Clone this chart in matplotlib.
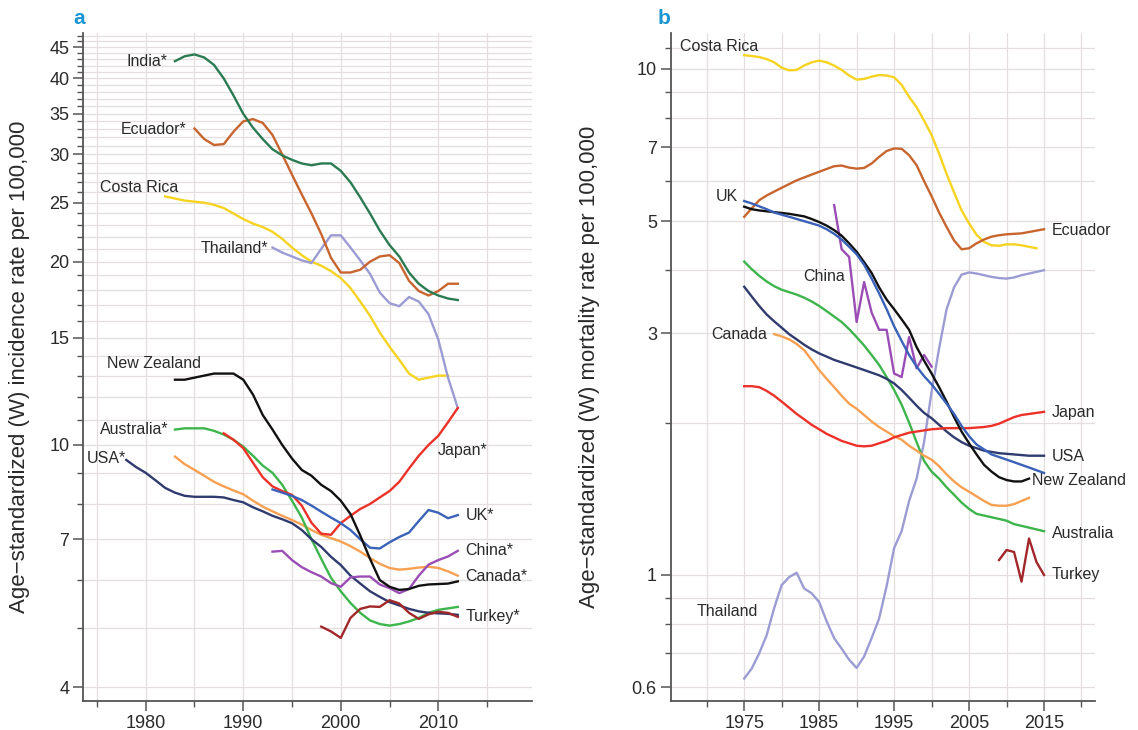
import matplotlib
matplotlib.use("Agg")
import matplotlib.pyplot as plt
from matplotlib.ticker import FixedLocator, NullFormatter, FixedFormatter

plt.rcParams['font.family'] = ['Liberation Sans', 'DejaVu Sans']

# ---------------- panel a: incidence ----------------
india_years = list(range(1983, 2013))
india = [42.7, 43.5, 43.8, 43.3, 42.1, 40.0, 37.5, 35.0, 33.2, 31.8, 30.6, 29.9, 29.4, 29.0, 28.8,
         29.0, 29.0, 28.2, 27.0, 25.5, 24.0, 22.5, 21.3, 20.4, 19.2, 18.4, 17.9, 17.6, 17.4, 17.3]

ecuador_years = list(range(1985, 2013))
ecuador = [33.1, 31.8, 31.1, 31.2, 32.7, 34.0, 34.3, 33.8, 32.3, 30.0, 27.8, 25.8, 24.0, 22.2,
           20.3, 19.2, 19.2, 19.4, 20.0, 20.4, 20.5, 19.9, 18.6, 17.9, 17.6, 17.9, 18.4, 18.4]

costa_years = list(range(1982, 2012))
costa = [25.6, 25.4, 25.2, 25.1, 25.0, 24.8, 24.5, 24.0, 23.5, 23.1, 22.8, 22.4, 21.8, 21.1, 20.5,
         20.0, 19.7, 19.3, 18.8, 18.1, 17.2, 16.3, 15.3, 14.5, 13.8, 13.1, 12.8, 12.9, 13.0, 13.0]

thai_years = list(range(1993, 2013))
thai = [21.1, 20.7, 20.4, 20.1, 19.9, 21.0, 22.1, 22.1, 21.1, 20.1, 19.1, 17.8, 17.1, 16.9, 17.5,
        17.2, 16.4, 14.9, 12.9, 11.5]

nz_years = list(range(1983, 2013))
nz = [12.8, 12.8, 12.9, 13.0, 13.1, 13.1, 13.1, 12.8, 12.1, 11.2, 10.6, 10.0, 9.5, 9.1, 8.9, 8.6,
      8.4, 8.1, 7.7, 7.1, 6.5, 6.0, 5.85, 5.78, 5.8, 5.87, 5.9, 5.91, 5.92, 5.97]

aus_years = list(range(1983, 2013))
aus = [10.6, 10.65, 10.65, 10.65, 10.55, 10.4, 10.2, 9.94, 9.6, 9.25, 9.0, 8.6, 8.1, 7.6, 7.0, 6.5,
       6.05, 5.75, 5.5, 5.3, 5.15, 5.08, 5.05, 5.08, 5.13, 5.2, 5.3, 5.36, 5.39, 5.42]

japan_years = list(range(1988, 2013))
japan = [10.45, 10.2, 9.88, 9.35, 8.85, 8.55, 8.4, 8.28, 7.95, 7.45, 7.15, 7.12, 7.44, 7.65, 7.85,
         8.0, 8.2, 8.4, 8.7, 9.15, 9.6, 10.0, 10.35, 10.9, 11.5]

usa_years = list(range(1978, 2013))
usa = [9.45, 9.2, 9.0, 8.75, 8.5, 8.35, 8.25, 8.22, 8.22, 8.22, 8.2, 8.12, 8.05, 7.9, 7.78, 7.65,
       7.55, 7.44, 7.25, 7.0, 6.8, 6.55, 6.35, 6.1, 5.92, 5.75, 5.63, 5.52, 5.45, 5.38, 5.33, 5.3,
       5.29, 5.28, 5.26]

canada_years = list(range(1983, 2013))
canada = [9.57, 9.3, 9.1, 8.9, 8.7, 8.55, 8.42, 8.3, 8.1, 7.92, 7.78, 7.65, 7.53, 7.4, 7.25, 7.12,
          7.03, 6.94, 6.82, 6.68, 6.52, 6.38, 6.28, 6.24, 6.26, 6.29, 6.31, 6.28, 6.2, 6.1]

uk_years = list(range(1993, 2013))
uk = [8.45, 8.35, 8.25, 8.12, 7.95, 7.77, 7.6, 7.44, 7.25, 7.0, 6.78, 6.76, 6.92, 7.06, 7.18, 7.5,
      7.82, 7.74, 7.58, 7.67]

china_years = list(range(1993, 2013))
china = [6.68, 6.7, 6.47, 6.3, 6.18, 6.08, 5.93, 5.85, 6.06, 6.08, 6.08, 5.9, 5.82, 5.71, 5.8, 6.1,
         6.36, 6.47, 6.56, 6.7]

turkey_years = list(range(1998, 2013))
turkey = [5.03, 4.94, 4.82, 5.2, 5.38, 5.43, 5.42, 5.56, 5.49, 5.3, 5.18, 5.27, 5.32, 5.3, 5.22]

# ---------------- panel b: mortality ----------------
b_years = list(range(1975, 2016))
b_costa = [10.64, 10.6, 10.55, 10.45, 10.3, 10.05, 9.93, 9.95, 10.15, 10.3, 10.38, 10.3, 10.15,
           9.95, 9.7, 9.52, 9.55, 9.65, 9.72, 9.7, 9.62, 9.3, 8.8, 8.4, 7.9, 7.4, 6.8, 6.2, 5.7,
           5.25, 4.95, 4.7, 4.55, 4.48, 4.47, 4.5, 4.5, 4.48, 4.45, 4.42]
b_ecuador = [5.1, 5.3, 5.5, 5.62, 5.72, 5.82, 5.92, 6.02, 6.1, 6.18, 6.26, 6.34, 6.42, 6.44, 6.38,
             6.35, 6.37, 6.5, 6.7, 6.88, 6.96, 6.95, 6.75, 6.45, 6.0, 5.6, 5.2, 4.87, 4.58, 4.4,
             4.42, 4.52, 4.6, 4.66, 4.69, 4.71, 4.72, 4.73, 4.76, 4.79, 4.82]
b_uk = [5.48, 5.42, 5.35, 5.28, 5.2, 5.15, 5.1, 5.05, 5.0, 4.95, 4.9, 4.82, 4.72, 4.6, 4.45, 4.3,
        4.1, 3.85, 3.6, 3.35, 3.1, 2.9, 2.72, 2.58, 2.47, 2.38, 2.28, 2.18, 2.08, 1.97, 1.88, 1.81,
        1.77, 1.73, 1.71, 1.69, 1.67, 1.65, 1.63, 1.61, 1.59]
b_nz = [5.34, 5.28, 5.25, 5.23, 5.21, 5.19, 5.17, 5.14, 5.11, 5.05, 4.98, 4.9, 4.8, 4.68, 4.52,
        4.35, 4.15, 3.95, 3.7, 3.5, 3.35, 3.2, 3.05, 2.82, 2.65, 2.5, 2.35, 2.2, 2.05, 1.92, 1.82,
        1.73, 1.65, 1.6, 1.56, 1.54, 1.53, 1.53, 1.55]
b_thai = [0.624, 0.653, 0.70, 0.76, 0.86, 0.955, 0.99, 1.01, 0.94, 0.92, 0.884, 0.81, 0.75, 0.715,
          0.68, 0.655, 0.69, 0.75, 0.82, 0.95, 1.13, 1.22, 1.4, 1.55, 1.83, 2.3, 2.8, 3.35, 3.7,
          3.92, 3.96, 3.94, 3.91, 3.88, 3.86, 3.85, 3.87, 3.91, 3.94, 3.97, 4.0]
b_aus = [4.16, 4.02, 3.9, 3.8, 3.72, 3.66, 3.62, 3.58, 3.53, 3.47, 3.4, 3.32, 3.24, 3.16, 3.06,
         2.95, 2.84, 2.72, 2.6, 2.46, 2.32, 2.17, 2.0, 1.83, 1.68, 1.6, 1.55, 1.49, 1.44, 1.39,
         1.35, 1.32, 1.31, 1.3, 1.29, 1.28, 1.26, 1.25, 1.24, 1.23, 1.22]
b_usa = [3.71, 3.55, 3.4, 3.27, 3.17, 3.08, 2.99, 2.92, 2.85, 2.79, 2.74, 2.7, 2.66, 2.63, 2.6,
         2.57, 2.54, 2.51, 2.48, 2.44, 2.39, 2.32, 2.24, 2.16, 2.09, 2.04, 1.98, 1.92, 1.87, 1.83,
         1.8, 1.78, 1.76, 1.75, 1.74, 1.735, 1.73, 1.725, 1.72, 1.72, 1.72]
b_japan = [2.36, 2.36, 2.35, 2.31, 2.26, 2.2, 2.14, 2.08, 2.03, 1.98, 1.94, 1.9, 1.87, 1.84, 1.82,
           1.8, 1.795, 1.8, 1.82, 1.84, 1.87, 1.89, 1.91, 1.92, 1.93, 1.94, 1.945, 1.95, 1.95,
           1.95, 1.95, 1.955, 1.96, 1.97, 1.99, 2.02, 2.05, 2.07, 2.08, 2.09, 2.10]
b_canada_years = list(range(1979, 2014))
b_canada = [2.99, 2.96, 2.92, 2.86, 2.78, 2.66, 2.54, 2.44, 2.35, 2.26, 2.18, 2.13, 2.07, 2.01,
            1.96, 1.92, 1.88, 1.85, 1.8, 1.76, 1.72, 1.69, 1.64, 1.58, 1.53, 1.49, 1.46, 1.43,
            1.4, 1.375, 1.37, 1.37, 1.38, 1.4, 1.42]
b_china_years = list(range(1987, 2001))
b_china = [5.38, 4.4, 4.25, 3.16, 3.79, 3.3, 3.05, 3.05, 2.5, 2.46, 2.95, 2.56, 2.72, 2.58]
b_turkey_years = list(range(2009, 2016))
b_turkey = [1.07, 1.12, 1.11, 0.97, 1.18, 1.06, 1.0]

# colours
c_india = '#2b7b52'
c_ecuador = '#c8652e'
c_costa = '#f6d320'
c_thai = '#9c9cd4'
c_nz = '#111111'
c_aus = '#3db54c'
c_japan = '#ec3228'
c_usa = '#2f3b6f'
c_canada = '#f8a052'
c_uk = '#3a62b8'
c_china = '#9a4db4'
c_turkey = '#a2272a'

grid_c = '#e4dede'
text_c = '#2a2a2a'
lw = 1.7

fig = plt.figure(figsize=(11.38, 7.30), dpi=100)
ax1 = fig.add_axes([0.0732, 0.040, 0.3942, 0.9148])
ax2 = fig.add_axes([0.5894, 0.040, 0.3728, 0.9148])

# ---- panel a lines
ax1.plot(costa_years, costa, color=c_costa, lw=lw)
ax1.plot(thai_years, thai, color=c_thai, lw=lw)
ax1.plot(ecuador_years, ecuador, color=c_ecuador, lw=lw)
ax1.plot(india_years, india, color=c_india, lw=lw)
ax1.plot(canada_years, canada, color=c_canada, lw=lw)
ax1.plot(aus_years, aus, color=c_aus, lw=lw)
ax1.plot(usa_years, usa, color=c_usa, lw=lw)
ax1.plot(japan_years, japan, color=c_japan, lw=lw)
ax1.plot(uk_years, uk, color=c_uk, lw=lw)
ax1.plot(china_years, china, color=c_china, lw=lw)
ax1.plot(nz_years, nz, color=c_nz, lw=lw)
ax1.plot(turkey_years, turkey, color=c_turkey, lw=lw)

lab = dict(fontsize=11.5, color=text_c, va='center')
ax1.text(1982.2, 42.7, 'India*', ha='right', **lab)
ax1.text(1984.2, 33.0, 'Ecuador*', ha='right', **lab)
ax1.text(1983.3, 26.5, 'Costa Rica', ha='right', **lab)
ax1.text(1992.6, 21.0, 'Thailand*', ha='right', **lab)
ax1.text(1985.7, 13.6, 'New Zealand', ha='right', **lab)
ax1.text(1982.3, 10.62, 'Australia*', ha='right', **lab)
ax1.text(1978.0, 9.5, 'USA*', ha='right', **lab)
ax1.text(2009.9, 9.81, 'Japan*', ha='left', **lab)
ax1.text(2012.8, 7.67, 'UK*', ha='left', **lab)
ax1.text(2012.8, 6.72, 'China*', ha='left', **lab)
ax1.text(2012.8, 6.07, 'Canada*', ha='left', **lab)
ax1.text(2012.8, 5.22, 'Turkey*', ha='left', **lab)

ax1.set_yscale('log')
ax1.set_xlim(1973.6, 2019.6)
ax1.set_ylim(3.8, 47.5)
a_major = [4, 7, 10, 15, 20, 25, 30, 35, 40, 45]
a_minor = [v for v in range(4, 48) if v not in a_major]
ax1.yaxis.set_major_locator(FixedLocator(a_major))
ax1.yaxis.set_major_formatter(FixedFormatter([str(v) for v in a_major]))
ax1.yaxis.set_minor_locator(FixedLocator(a_minor))
ax1.yaxis.set_minor_formatter(NullFormatter())
ax1.xaxis.set_major_locator(FixedLocator([1980, 1990, 2000, 2010]))
ax1.xaxis.set_minor_locator(FixedLocator([1975, 1985, 1995, 2005, 2015]))
ax1.set_ylabel('Age\u2212standardized (W) incidence rate per 100,000', fontsize=16, color=text_c)
ax1.yaxis.set_label_coords(-0.118, 0.5)

# ---- panel b lines
ax2.plot(b_years[:len(b_costa)], b_costa, color=c_costa, lw=lw)
ax2.plot(b_years, b_ecuador, color=c_ecuador, lw=lw)
ax2.plot(b_years, b_thai, color=c_thai, lw=lw)
ax2.plot(b_years, b_aus, color=c_aus, lw=lw)
ax2.plot(b_canada_years, b_canada, color=c_canada, lw=lw)
ax2.plot(b_years, b_usa, color=c_usa, lw=lw)
ax2.plot(b_years, b_japan, color=c_japan, lw=lw)
ax2.plot(b_china_years, b_china, color=c_china, lw=lw)
ax2.plot(b_years[:len(b_nz)], b_nz, color=c_nz, lw=lw)
ax2.plot(b_years, b_uk, color=c_uk, lw=lw)
ax2.plot(b_turkey_years, b_turkey, color=c_turkey, lw=lw)

ax2.text(1966.4, 11.05, 'Costa Rica', ha='left', **lab)
ax2.text(1974.2, 5.6, 'UK', ha='right', **lab)
ax2.text(2016.0, 4.8, 'Ecuador', ha='left', **lab)
ax2.text(1982.9, 3.89, 'China', ha='left', **lab)
ax2.text(1978.1, 2.99, 'Canada', ha='right', **lab)
ax2.text(2016.0, 2.09, 'Japan', ha='left', **lab)
ax2.text(2016.0, 1.716, 'USA', ha='left', **lab)
ax2.text(2013.4, 1.54, 'New Zealand', ha='left', **lab)
ax2.text(2016.0, 1.207, 'Australia', ha='left', **lab)
ax2.text(2016.0, 1.0, 'Turkey', ha='left', **lab)
ax2.text(1968.7, 0.845, 'Thailand', ha='left', **lab)

ax2.set_yscale('log')
ax2.set_xlim(1965.2, 2021.8)
ax2.set_ylim(0.564, 11.77)
b_major = [0.6, 1, 3, 5, 7, 10]
b_minor = [0.7, 0.8, 0.9, 2, 4, 6, 8, 9, 11]
ax2.yaxis.set_major_locator(FixedLocator(b_major))
ax2.yaxis.set_major_formatter(FixedFormatter(['0.6', '1', '3', '5', '7', '10']))
ax2.yaxis.set_minor_locator(FixedLocator(b_minor))
ax2.yaxis.set_minor_formatter(NullFormatter())
ax2.xaxis.set_major_locator(FixedLocator([1975, 1985, 1995, 2005, 2015]))
ax2.xaxis.set_minor_locator(FixedLocator([1970, 1980, 1990, 2000, 2010, 2020]))
ax2.set_ylabel('Age\u2212standardized (W) mortality rate per 100,000', fontsize=16, color=text_c)
ax2.yaxis.set_label_coords(-0.166, 0.5)

for ax in (ax1, ax2):
    ax.grid(True, which='both', color=grid_c, lw=0.9, zorder=0)
    ax.set_axisbelow(True)
    for s in ('top', 'right'):
        ax.spines[s].set_visible(False)
    for s in ('left', 'bottom'):
        ax.spines[s].set_color('#555555')
        ax.spines[s].set_linewidth(1.3)
    ax.tick_params(which='major', length=7, width=1.1, color='#555555', labelsize=13,
                   labelcolor=text_c, pad=3)
    ax.tick_params(which='minor', length=4, width=1.0, color='#555555')

fig.text(0.0695, 0.975, 'a', fontsize=15, fontweight='bold', color='#1a96d4', ha='center', va='center')
fig.text(0.5835, 0.975, 'b', fontsize=15, fontweight='bold', color='#1a96d4', ha='center', va='center')

plt.savefig('out.png', dpi=100)
